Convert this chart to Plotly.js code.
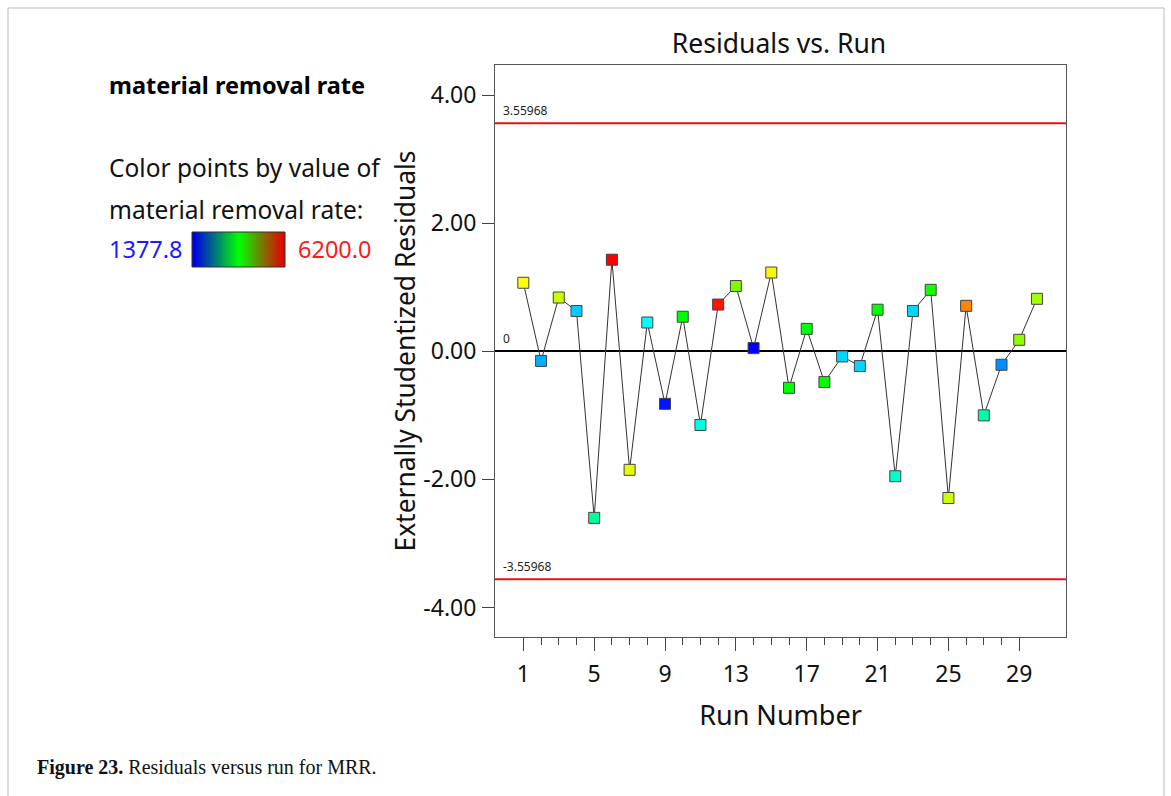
<!DOCTYPE html>
<html>
<head>
<meta charset="utf-8">
<script src="https://cdn.plot.ly/plotly-3.0.1.min.js"></script>
<style>
html,body{margin:0;padding:0;background:#fff;}
#chart{width:1171px;height:796px;}
</style>
</head>
<body>
<div id="chart"></div>
<script>
// ---- data ----
const runs = [1,2,3,4,5,6,7,8,9,10,11,12,13,14,15,16,17,18,19,20,21,22,23,24,25,26,27,28,29,30];
const residuals = [1.07,-0.15,0.84,0.63,-2.60,1.43,-1.85,0.45,-0.82,0.54,-1.15,0.73,1.02,0.05,1.23,-0.57,0.35,-0.48,-0.08,-0.23,0.65,-1.95,0.63,0.96,-2.29,0.71,-1.00,-0.21,0.18,0.82];
const mrr = [4990,2200,4750,2340,3070,6200,4850,2580,1470,3790,2730,6100,4370,1378,5040,3790,3740,3790,2390,2390,3790,2820,2390,3890,4750,5570,3020,2050,4460,4560];
const mrrMin = 1377.8;
const mrrMax = 6200.0;
const limits = [3.55968, -3.55968];
const xTicks = [1,5,9,13,17,21,25,29];
const xMinorTicks = [2,3,4,6,7,8,10,11,12,14,15,16,18,19,20,22,23,24,26,27,28];
const yTicks = [-4,-2,0,2,4];
const legendRamp = [[0,1,2,3,4,5,6,7,8,9,10,11,12,13,14,15,16,17,18,19,20]];

// ---- layout helpers (pixel -> paper) ----
const W = 1171, H = 796;
const px = x => x / W;
const py = y => 1 - y / H;
const FONT = 'Noto Sans, Open Sans, sans-serif';

const rainbow = [[0,'rgb(0,0,255)'],[0.25,'rgb(0,255,255)'],[0.5,'rgb(0,255,0)'],[0.75,'rgb(255,255,0)'],[1,'rgb(255,0,0)']];
const legendScale = [[0,'rgb(0,0,230)'],[0.5,'rgb(0,255,0)'],[1,'rgb(230,0,0)']];

const traces = [
  {
    type: 'scatter', mode: 'lines+markers',
    x: runs, y: residuals,
    line: {color: '#333', width: 1},
    marker: {
      symbol: 'square', size: 11,
      color: mrr, cmin: mrrMin, cmax: mrrMax, colorscale: rainbow, showscale: false,
      line: {color: '#444', width: 1}
    },
    hoverinfo: 'x+y', showlegend: false
  },
  {
    type: 'heatmap', z: legendRamp, xaxis: 'x2', yaxis: 'y2',
    colorscale: legendScale, showscale: false, zsmooth: 'best', hoverinfo: 'skip'
  }
];

const shapes = limits.map(v => ({
  type: 'line', xref: 'x domain', yref: 'y', x0: 0, x1: 1, y0: v, y1: v,
  line: {color: '#e81010', width: 2}
}));
shapes.push({type:'rect', xref:'x2 domain', yref:'y2 domain', x0:0, x1:1, y0:0, y1:1, line:{color:'#333', width:1}});
shapes.push({type:'rect', xref:'paper', yref:'paper', x0:px(8), x1:px(1164), y0:-0.02, y1:py(8), line:{color:'#bbb', width:1}});

const annotations = [
  {text: limits[0].toString(), xref:'paper', yref:'y', x: px(501), y: limits[0], xanchor:'left', yanchor:'bottom', yshift: 2, showarrow:false, font:{family:FONT, size:12, color:'#222'}},
  {text: limits[1].toString(), xref:'paper', yref:'y', x: px(501), y: limits[1], xanchor:'left', yanchor:'bottom', yshift: 2, showarrow:false, font:{family:FONT, size:12, color:'#222'}},
  {text: '0', xref:'paper', yref:'y', x: px(501), y: 0, xanchor:'left', yanchor:'bottom', yshift: 2, showarrow:false, font:{family:FONT, size:12, color:'#222'}},
  {text: '<b>material removal rate</b>', xref:'paper', yref:'paper', x: px(107), y: py(85), xanchor:'left', yanchor:'middle', showarrow:false, font:{family:FONT, size:23.5, color:'#000'}},
  {text: 'Color points by value of', xref:'paper', yref:'paper', x: px(107), y: py(167), xanchor:'left', yanchor:'middle', showarrow:false, font:{family:FONT, size:24.5, color:'#111'}},
  {text: 'material removal rate:', xref:'paper', yref:'paper', x: px(107), y: py(210), xanchor:'left', yanchor:'middle', showarrow:false, font:{family:FONT, size:24.5, color:'#111'}},
  {text: mrrMin.toFixed(1), xref:'paper', yref:'paper', x: px(107), y: py(249), xanchor:'left', yanchor:'middle', showarrow:false, font:{family:FONT, size:23.5, color:'#1a1aff'}},
  {text: mrrMax.toFixed(1), xref:'paper', yref:'paper', x: px(296), y: py(249), xanchor:'left', yanchor:'middle', showarrow:false, font:{family:FONT, size:23.5, color:'#ff1a1a'}},
  {text: '<b>Figure 23.</b> Residuals versus run for MRR.', xref:'paper', yref:'paper', x: px(35), y: py(767), xanchor:'left', yanchor:'middle', showarrow:false, font:{family:'Liberation Serif, Times New Roman, serif', size:20, color:'#111'}}
];

const layout = {
  width: W, height: H,
  margin: {l:0, r:0, t:0, b:0},
  paper_bgcolor: '#fff', plot_bgcolor: '#fff',
  font: {family: FONT, color: '#111'},
  title: {text: 'Residuals vs. Run', x: px(779), xanchor: 'center', y: py(44), yanchor: 'middle', font: {family: FONT, size: 26.5, color: '#111'}},
  xaxis: {
    domain: [px(495), px(1066)], range: [-0.6, 31.64],
    tickmode: 'array', tickvals: xTicks, ticktext: xTicks.map(String),
    ticks: 'outside', ticklen: 13, tickwidth: 1, tickcolor: '#444',
    ticklabelstandoff: 3,
    minor: {tickmode: 'array', tickvals: xMinorTicks, ticks: 'outside', ticklen: 7, tickcolor: '#444', showgrid: false},
    showline: true, mirror: true, linecolor: '#555', linewidth: 1,
    showgrid: false, zeroline: false,
    tickfont: {family: FONT, size: 23, color: '#111'},
    title: {text: 'Run Number', font: {family: FONT, size: 27, color: '#111'}, standoff: 18}
  },
  yaxis: {
    domain: [py(637), py(65)], range: [-4.46, 4.47],
    tickmode: 'array', tickvals: yTicks, ticktext: yTicks.map(v => v.toFixed(2)),
    ticks: 'outside', ticklen: 12, tickwidth: 1, tickcolor: '#444',
    ticklabelstandoff: 1,
    showline: true, mirror: true, linecolor: '#555', linewidth: 1,
    showgrid: false, zeroline: true, zerolinecolor: '#000', zerolinewidth: 2,
    tickfont: {family: FONT, size: 23, color: '#111'},
    title: {text: 'Externally Studentized Residuals', font: {family: FONT, size: 26.4, color: '#111'}, standoff: 0}
  },
  xaxis2: {domain: [px(192), px(285)], anchor: 'y2', visible: false, fixedrange: true},
  yaxis2: {domain: [py(267), py(232)], anchor: 'x2', visible: false, fixedrange: true},
  shapes: shapes,
  annotations: annotations,
  showlegend: false
};

Plotly.newPlot('chart', traces, layout, {staticPlot: true, displayModeBar: false});
</script>
</body>
</html>
